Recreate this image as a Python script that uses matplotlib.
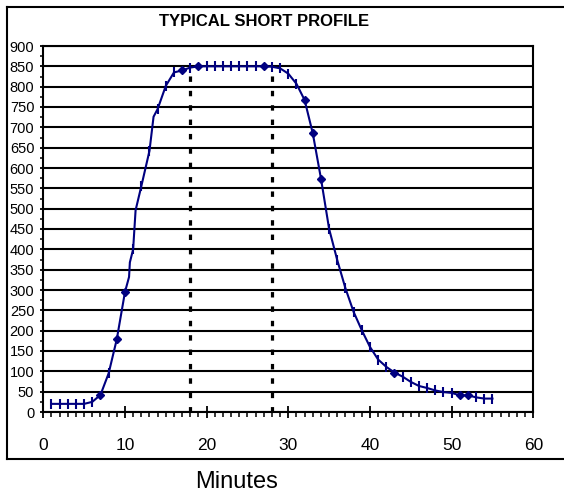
import matplotlib
matplotlib.use("Agg")
import matplotlib.pyplot as plt
from matplotlib.lines import Line2D
from matplotlib.ticker import MultipleLocator

# ---------------------------------------------------------------------------
# Data
# ---------------------------------------------------------------------------

# vertices of the smoothed curve (minutes, value); the kinks near 10-11 and 13.5
# are part of the original trace
line_minutes = [1, 2, 3, 4, 5, 6, 7, 8, 9, 10, 10.5, 10.6, 11, 11.3, 12, 13, 13.5,
                14, 15, 16, 17, 18, 19, 20, 21, 22, 23, 24, 25, 26, 27, 28, 29,
                30, 31, 32, 33, 34, 35, 36, 37, 38, 39, 40, 41, 42, 43, 44, 45,
                46, 47, 48, 49, 50, 51, 52, 53, 54, 55]
line_values = [20, 20, 20, 20, 20, 25, 42, 95, 179, 295, 332, 368, 400, 496, 555, 642, 726,
               745, 802, 835, 840, 847, 850, 850, 850, 850, 850, 850, 850, 850, 850, 849, 845,
               832, 807, 767, 685, 574, 450, 373, 304, 246, 201, 160, 129, 111, 97, 87, 74,
               64, 59, 53, 49, 47, 41, 41, 36, 33, 33]

# points drawn as diamonds, all other whole minutes get a tick marker
diamond_minutes = [7, 9, 10, 17, 19, 27, 32, 33, 34, 43, 51, 52]

# dotted markers of the plateau
plateau_minutes = [18, 28]
plateau_top = 850

title = "TYPICAL SHORT PROFILE"
xlabel = "Minutes"

# ---------------------------------------------------------------------------
# Figure
# ---------------------------------------------------------------------------

W, H = 564, 492
plt.rcParams['font.family'] = ['Liberation Sans', 'DejaVu Sans']

fig = plt.figure(figsize=(W / 100, H / 100), dpi=100)
ax = fig.add_axes([43.3 / W, (H - 412) / H, (533.3 - 43.3) / W, (412 - 46) / H])

navy = '#000080'

# outer chart frame: left, top and bottom only (the right side is cut off)
fx0, fy_top, fy_bot = 7.3 / W, 1 - 7.3 / H, 1 - 459.3 / H
for xs, ys in [([fx0, fx0], [fy_bot, fy_top]),
               ([fx0, 1.05], [fy_top, fy_top]),
               ([fx0, 1.05], [fy_bot, fy_bot])]:
    fig.lines.append(Line2D(xs, ys, transform=fig.transFigure, color='black',
                            linewidth=1.5, solid_capstyle='projecting'))

# plateau lines
for m in plateau_minutes:
    ax.plot([m, m], [0, plateau_top], color='black', linewidth=2.3,
            linestyle=(0, (1.7, 2.8)), dash_capstyle='butt', zorder=2)

ax.plot(line_minutes, line_values, color=navy, linewidth=1.5, zorder=3)

tick_x = [m for m, v in zip(line_minutes, line_values)
          if float(m).is_integer() and m not in diamond_minutes]
tick_y = [v for m, v in zip(line_minutes, line_values)
          if float(m).is_integer() and m not in diamond_minutes]
dia_x = [m for m in line_minutes if m in diamond_minutes]
dia_y = [v for m, v in zip(line_minutes, line_values) if m in diamond_minutes]

ax.plot(tick_x, tick_y, linestyle='none', marker='|', markersize=7,
        markeredgewidth=1.5, color=navy, zorder=4)
ax.plot(dia_x, dia_y, linestyle='none', marker='D', markersize=4.5,
        color=navy, zorder=4)

ax.set_xlim(0, 60)
ax.set_ylim(0, 900)
ax.xaxis.set_major_locator(MultipleLocator(10))
ax.xaxis.set_minor_locator(MultipleLocator(1))
ax.yaxis.set_major_locator(MultipleLocator(50))
ax.yaxis.set_minor_locator(MultipleLocator(25))

ax.grid(axis='y', which='major', color='black', linewidth=1.5)
ax.set_axisbelow(True)
for s in ax.spines.values():
    s.set_linewidth(1.5)

ax.tick_params(axis='x', which='major', direction='inout', length=9, width=1.3,
               labelsize=12.5, pad=14)
ax.tick_params(axis='x', which='minor', direction='out', length=3.5, width=1.1)
ax.tick_params(axis='y', which='major', direction='out', length=2.5, width=1.3,
               labelsize=10.5, pad=4)
ax.tick_params(axis='y', which='minor', direction='out', length=2.5, width=1.1)

fig.text(264 / W, 1 - 22 / H, title, ha='center', va='center',
         fontsize=12, fontweight='bold')
fig.text(236.7 / W, 1 - 481.5 / H, xlabel, ha='center', va='center',
         fontsize=17)

fig.savefig("out.png", dpi=100)
